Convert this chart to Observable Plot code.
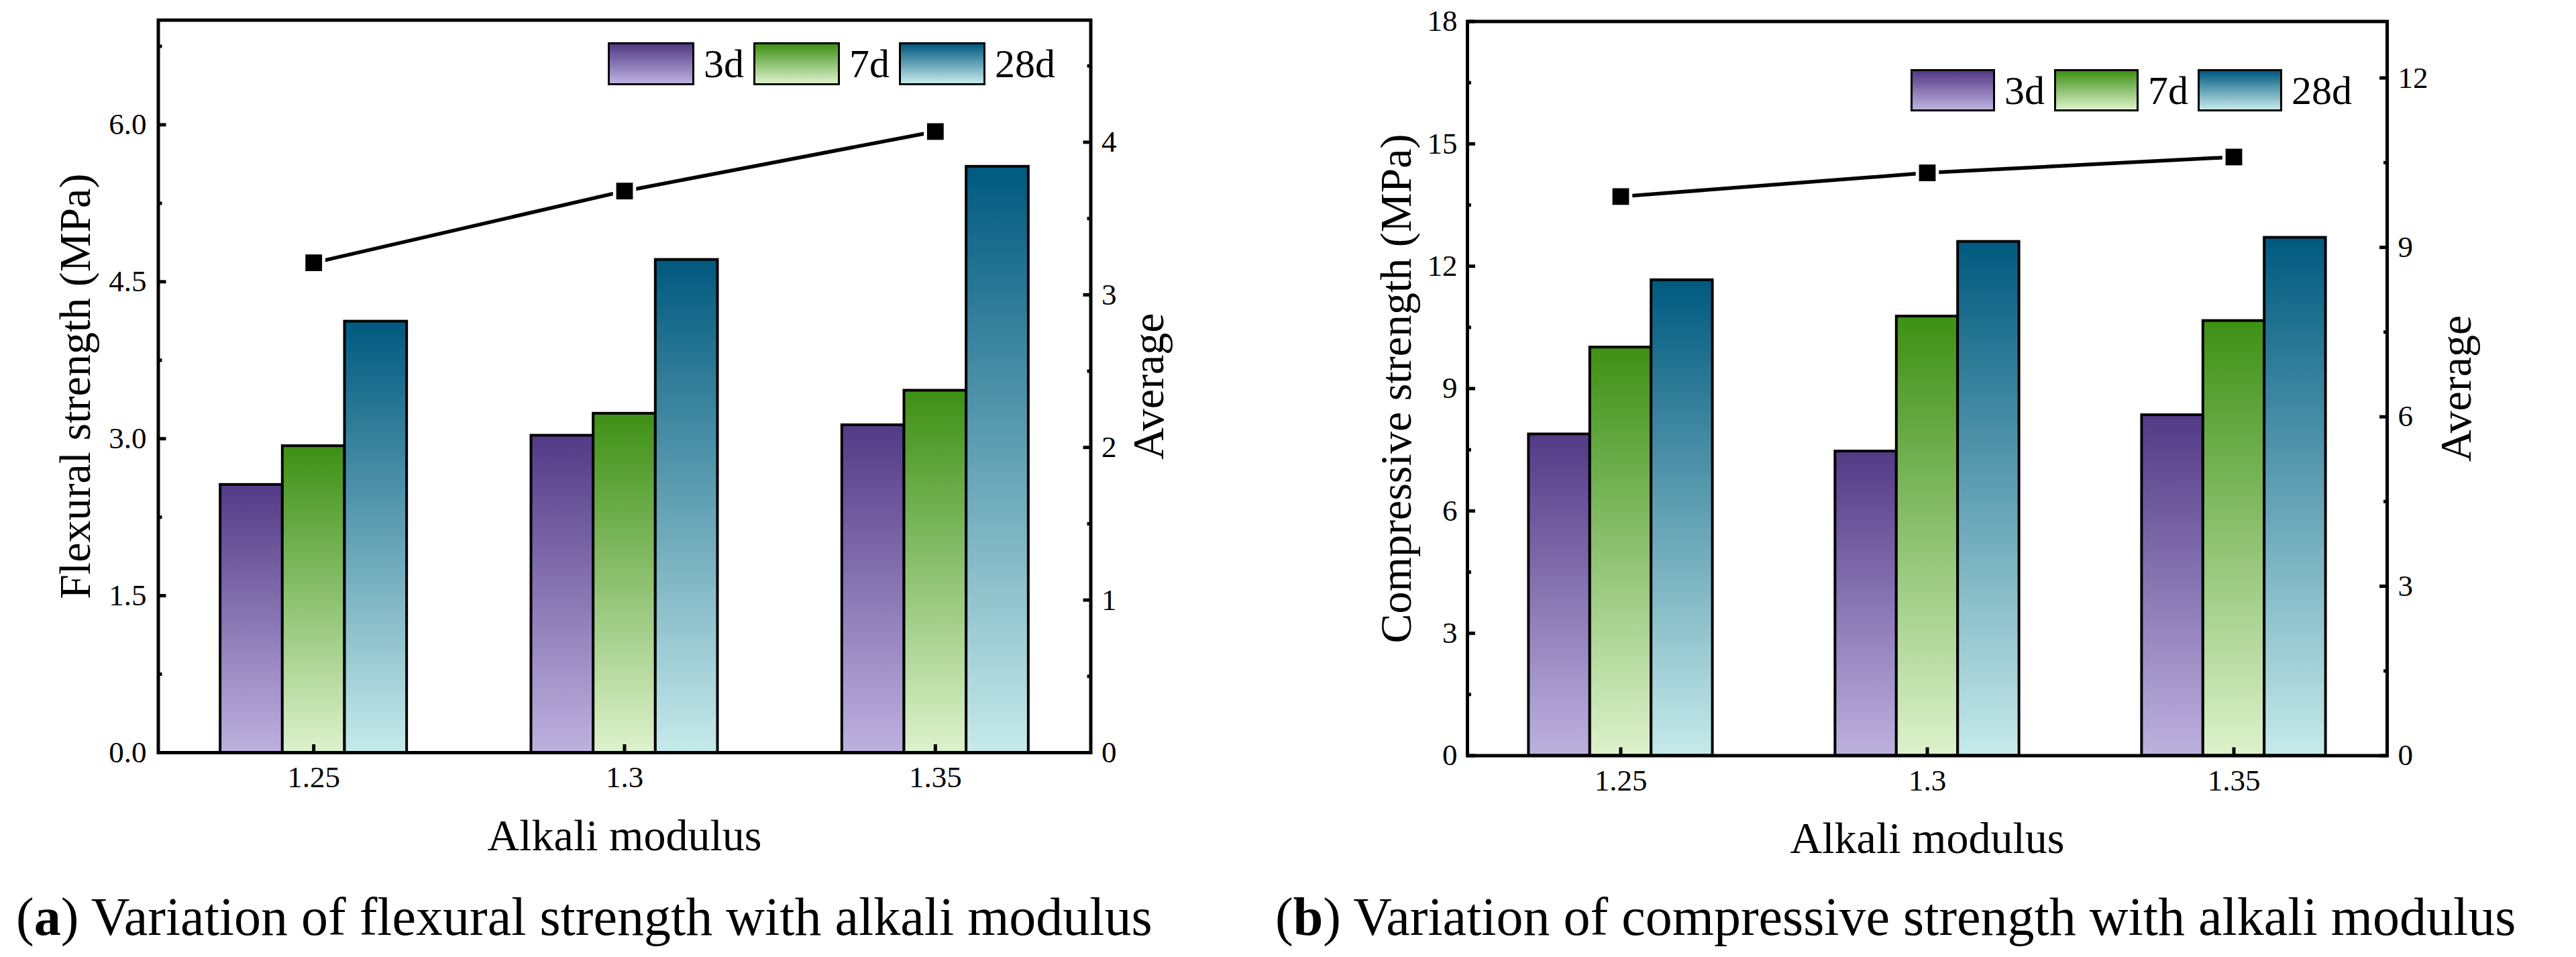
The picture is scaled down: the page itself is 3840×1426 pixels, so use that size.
<!DOCTYPE html>
<html>
<head>
<meta charset="utf-8">
<script src="https://cdn.jsdelivr.net/npm/d3@7"></script>
<script src="https://cdn.jsdelivr.net/npm/@observablehq/plot@0.6"></script>
<style>
  html, body { margin: 0; padding: 0; background: #fff; }
  body { width: 3840px; height: 1426px; overflow: hidden; position: relative;
         font-family: "Liberation Serif", "Times New Roman", serif; color: #000; }
  .panel { position: absolute; top: 0; width: 1920px; height: 1300px; }
  .legend { position: absolute; display: flex; align-items: center; font-size: 60px; line-height: 1; }
  .legend .swatch { box-sizing: border-box; border: 3px solid #000; }
  .legend .name { margin-left: 14px; margin-right: 14px; }
  .caption { position: absolute; top: 1326px; font-size: 80px; line-height: 80px; white-space: nowrap; }
</style>
</head>
<body>
<svg width="0" height="0" style="position:absolute"><defs id="grads"></defs></svg>
<div id="panelA" class="panel" style="left:0"></div>
<div id="panelB" class="panel" style="left:1920px"></div>
<div class="caption" style="left:24px">(<b>a</b>) Variation of flexural strength with alkali modulus</div>
<div class="caption" style="left:1901px">(<b>b</b>) Variation of compressive strength with alkali modulus</div>
<script>
// Alkali modulus groups and curing ages
const modulus = [1.25, 1.3, 1.35];
const modulusLabels = ["1.25", "1.3", "1.35"];
const ages = ["3d", "7d", "28d"];

// Flexural strength (MPa)
const flexural3d = [2.56, 3.03, 3.13];
const flexural7d = [2.93, 3.24, 3.46];
const flexural28d = [4.12, 4.71, 5.60];
const flexuralAverage = [3.21, 3.68, 4.07];

// Compressive strength (MPa)
const compressive3d = [7.88, 7.46, 8.35];
const compressive7d = [10.01, 10.77, 10.66];
const compressive28d = [11.66, 12.60, 12.70];
const compressiveAverage = [9.90, 10.32, 10.60];

// Axis ticks
const flexTicks = [0, 1.5, 3.0, 4.5, 6.0];
const flexMinor = [0.75, 2.25, 3.75, 5.25, 6.75];
const flexAvgTicks = [0, 1, 2, 3, 4];
const flexAvgMinor = [0.5, 1.5, 2.5, 3.5, 4.5];
const compTicks = [0, 3, 6, 9, 12, 15, 18];
const compMinor = [1.5, 4.5, 7.5, 10.5, 13.5, 16.5];
const compAvgTicks = [0, 3, 6, 9, 12];
const compAvgMinor = [1.5, 4.5, 7.5, 10.5];

// Vertical gradient per curing age (dark at the top, light at the base)
const ageTop = ["#533a86", "#3e9015", "#00597f"];
const ageBottom = ["#bdb1df", "#ddf2cc", "#c6eaea"];

const defs = document.getElementById("grads");
ages.forEach((age, j) => {
  const ns = "http://www.w3.org/2000/svg";
  const g = document.createElementNS(ns, "linearGradient");
  g.setAttribute("id", `grad-${j}`);
  g.setAttribute("x1", 0); g.setAttribute("y1", 0);
  g.setAttribute("x2", 0); g.setAttribute("y2", 1);
  [[0, ageTop[j]], [1, ageBottom[j]]].forEach(([o, c]) => {
    const s = document.createElementNS(ns, "stop");
    s.setAttribute("offset", o);
    s.setAttribute("stop-color", c);
    g.appendChild(s);
  });
  defs.appendChild(g);
});

const font = "'Liberation Serif', 'Times New Roman', serif";

function strengthChart(o) {
  const k = o.yMax / o.avgMax; // maps the Average axis onto the strength axis
  const barWidth = 0.01;       // width of one bar in modulus units
  const bars = [];
  ages.forEach((age, j) => modulus.forEach((m, i) => bars.push({age, j, m, value: o.series[j][i]})));
  const avg = modulus.map((m, i) => ({m, value: o.average[i] * k}));
  const axisStyle = {strokeWidth: 5, fontSize: 45, fontFamily: font, label: null};
  const title = {rotate: -90, fontSize: 66, fontFamily: font, textAnchor: "middle", lineAnchor: "middle"};

  return Plot.plot({
    width: 1920,
    height: 1300,
    marginLeft: o.margins[0],
    marginRight: o.margins[1],
    marginTop: o.margins[2],
    marginBottom: o.margins[3],
    x: {domain: [1.225, 1.375]},
    y: {domain: [0, o.yMax]},
    style: {fontFamily: font, fontSize: "45px", color: "black", background: "white", overflow: "visible"},
    marks: [
      ...ages.map((age, j) => Plot.rect(bars.filter(d => d.j === j), {
        x1: d => d.m + (j - 1.5) * barWidth,
        x2: d => d.m + (j - 0.5) * barWidth,
        y1: 0,
        y2: "value",
        fill: `url(#grad-${j})`,
        stroke: "black",
        strokeWidth: 4
      })),
      Plot.line(avg, {x: "m", y: "value", stroke: "black", strokeWidth: 5.5}),
      Plot.dot(avg, {x: "m", y: "value", symbol: "square", r: 19.5, fill: "white"}),
      Plot.dot(avg, {x: "m", y: "value", symbol: "square", r: 14, fill: "black"}),
      Plot.axisX(modulus, {...axisStyle, anchor: "bottom", tickSize: -12, tickPadding: 32,
        tickFormat: d => modulusLabels[modulus.indexOf(d)]}),
      Plot.axisY(o.yTicks, {...axisStyle, anchor: "left", tickSize: -12, tickPadding: o.leftPad, tickFormat: o.yFormat}),
      Plot.axisY(o.yMinor, {...axisStyle, anchor: "left", tickSize: -6, fill: "none"}),
      Plot.axisY(o.avgTicks.map(v => v * k), {...axisStyle, anchor: "right", tickSize: -12, tickPadding: 28,
        tickFormat: d => String(Math.round(d / k))}),
      Plot.axisY(o.avgMinor.map(v => v * k), {...axisStyle, anchor: "right", tickSize: -6, fill: "none"}),
      Plot.text([o.yLabel], {...title, frameAnchor: "left", dx: o.titleDx}),
      Plot.text(["Average"], {...title, frameAnchor: "right", dx: o.avgDx}),
      Plot.text(["Alkali modulus"], {frameAnchor: "bottom", dy: 124, fontSize: 66, fontFamily: font,
        textAnchor: "middle", lineAnchor: "middle"}),
      Plot.frame({stroke: "black", strokeWidth: 5})
    ]
  });
}

function legend(panel, left, top, swatchW, swatchH) {
  const box = document.createElement("div");
  box.className = "legend";
  box.style.left = left + "px";
  box.style.top = top + "px";
  box.style.height = swatchH + "px";
  ages.forEach((age, j) => {
    const sw = document.createElement("div");
    sw.className = "swatch";
    sw.style.width = swatchW + "px";
    sw.style.height = swatchH + "px";
    sw.style.background = `linear-gradient(to bottom, ${ageTop[j]}, ${ageBottom[j]})`;
    const name = document.createElement("span");
    name.className = "name";
    name.textContent = age;
    box.append(sw, name);
  });
  panel.appendChild(box);
}

const panelA = document.getElementById("panelA");
panelA.appendChild(strengthChart({
  series: [flexural3d, flexural7d, flexural28d],
  average: flexuralAverage,
  yMax: 7, avgMax: 4.8,
  yTicks: flexTicks, yMinor: flexMinor, yFormat: d3.format(".1f"),
  avgTicks: flexAvgTicks, avgMinor: flexAvgMinor,
  yLabel: "Flexural strength (MPa)",
  margins: [235.5, 294.5, 29.5, 179],
  leftPad: 29.5, titleDx: -123, avgDx: 87
}));
legend(panelA, 906, 63, 129, 64);

const panelB = document.getElementById("panelB");
panelB.appendChild(strengthChart({
  series: [compressive3d, compressive7d, compressive28d],
  average: compressiveAverage,
  yMax: 18, avgMax: 13,
  yTicks: compTicks, yMinor: compMinor, yFormat: d3.format("d"),
  avgTicks: compAvgTicks, avgMinor: compAvgMinor,
  yLabel: "Compressive strength (MPa)",
  margins: [267, 282, 31.5, 174.5],
  leftPad: 27, titleDx: -106, avgDx: 103
}));
legend(panelB, 928, 103, 126, 63);
</script>
</body>
</html>
